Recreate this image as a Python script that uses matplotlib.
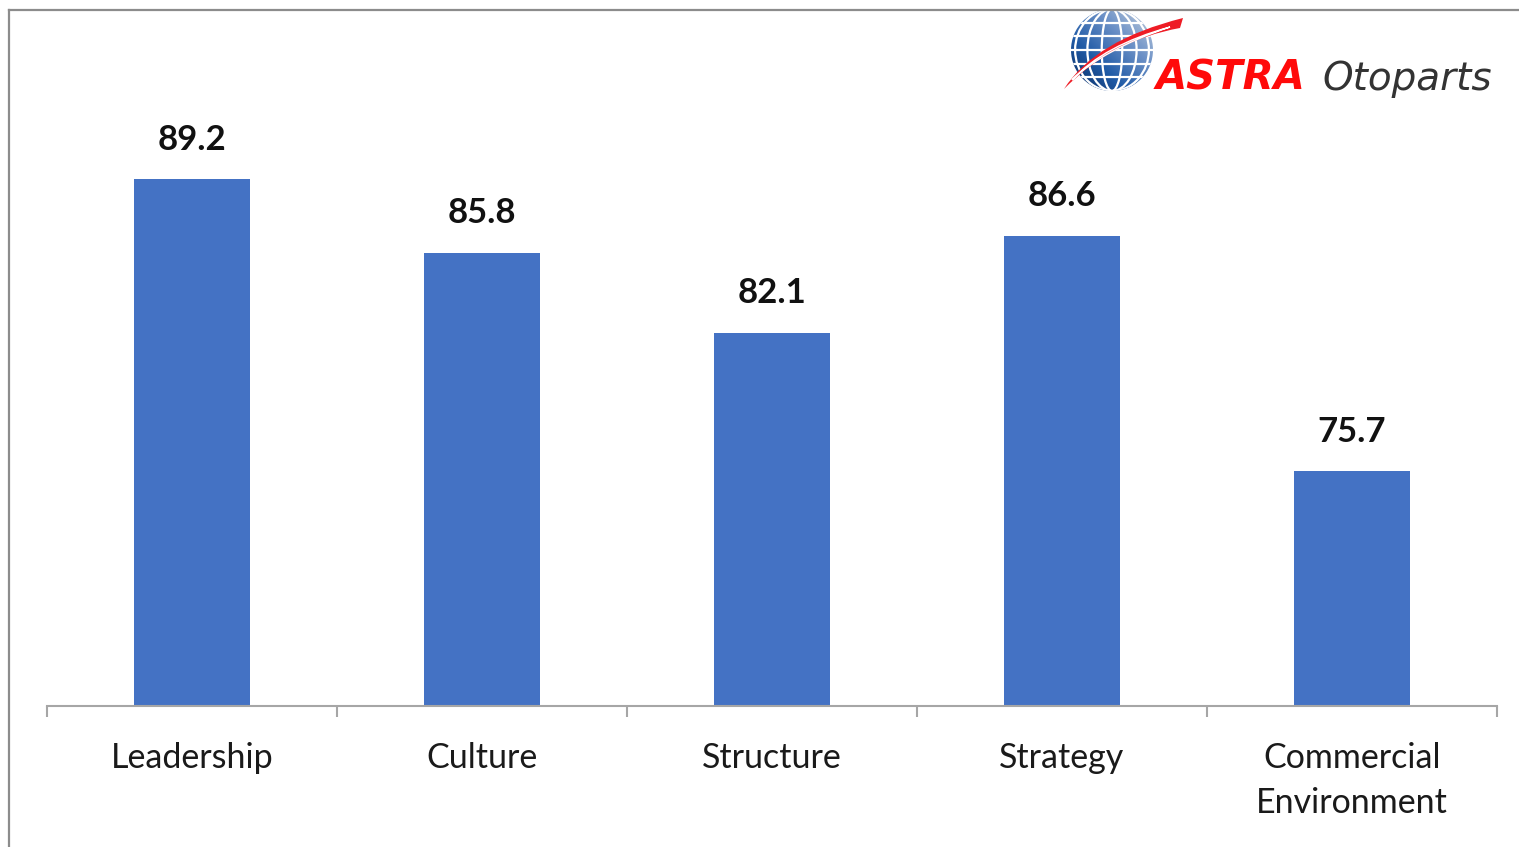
import matplotlib.pyplot as plt
import numpy as np
from matplotlib.patches import Circle, Ellipse, PathPatch
from matplotlib.path import Path
from matplotlib.colors import LinearSegmentedColormap

categories = ["Leadership", "Culture", "Structure", "Strategy", "Commercial\nEnvironment"]
scores = [89.2, 85.8, 82.1, 86.6, 75.7]
value_labels = ["89.2", "85.8", "82.1", "86.6", "75.7"]

W, H = 1519, 847
fig = plt.figure(figsize=(W / 100, H / 100), dpi=100)
fig.patch.set_facecolor("white")

# outer frame (only top and left edges visible in the crop)
fig.add_artist(plt.Line2D([9 / W, 1.0], [1 - 10 / H, 1 - 10 / H], color="#8c8c8c", lw=1.6))
fig.add_artist(plt.Line2D([9 / W, 9 / W], [0, 1 - 10 / H], color="#8c8c8c", lw=1.6))

# main chart axes
base_px, top_px = 706, 100
ax = fig.add_axes([47 / W, (H - base_px) / H, 1450 / W, (base_px - top_px) / H])
ymin = 64.85
ymax = ymin + (base_px - top_px) / 21.63
x = np.arange(len(categories))
bars = ax.bar(x, [s - ymin for s in scores], bottom=ymin, width=0.4, color="#4472C4", zorder=2)
ax.set_xlim(-0.5, len(categories) - 0.5)
ax.set_ylim(ymin, ymax)

for b, lab in zip(bars, value_labels):
    ax.annotate(lab, (b.get_x() + b.get_width() / 2, b.get_y() + b.get_height()),
                xytext=(0, 17), textcoords="offset points", ha="center", va="bottom",
                fontsize=25, fontweight="bold", family="Lato", color="#111111")

for s in ["top", "right", "left"]:
    ax.spines[s].set_visible(False)
ax.spines["bottom"].set_color("#a6a6a6")
ax.spines["bottom"].set_linewidth(1.5)
ax.set_yticks([])
ax.set_xticks(x)
ax.set_xticklabels(categories, fontsize=24.5, family="Lato", color="#1a1a1a", linespacing=1.5)
ax.tick_params(axis="x", length=0, pad=26)
# category boundary ticks
ax.set_xticks(np.arange(-0.5, len(categories)), minor=True)
ax.tick_params(axis="x", which="minor", length=8, width=1.5, color="#a6a6a6")
ax.patch.set_alpha(0)

# logo
lg = fig.add_axes([1055 / W, (H - 105) / H, 445 / W, 97 / H])
lg.set_xlim(1055, 1500)
lg.set_ylim(105, 8)
lg.axis("off")

cx, cy, r = 1112, 50, 41
clip = Circle((cx, cy), r, transform=lg.transData)
gx, gy = np.meshgrid(np.linspace(0, 1, 100), np.linspace(0, 1, 100))
grad = (gx + (1 - gy)) / 2
cmap = LinearSegmentedColormap.from_list("globe", ["#0b2a5c", "#1f5aa6", "#6f93c8", "#c9d3de"])
im = lg.imshow(grad, extent=(cx - r, cx + r, cy + r, cy - r), cmap=cmap, origin="upper", zorder=1)
im.set_clip_path(clip)
for w in [0.25, 0.6, 0.9]:
    e = Ellipse((cx, cy), 2 * r * w, 2 * r, fill=False, ec="white", lw=1.6, zorder=2)
    lg.add_patch(e)
    e.set_clip_path(clip)
for k in [-0.66, -0.33, 0, 0.33, 0.66]:
    ln, = lg.plot([cx - r, cx + r], [cy + k * r, cy + k * r], color="white", lw=1.6, zorder=2)
    ln.set_clip_path(clip)

# red swoosh
verts = [(1064, 89), (1095, 40), (1183, 18), (1180, 28), (1112, 40), (1064, 89)]
codes = [Path.MOVETO, Path.CURVE3, Path.CURVE3, Path.LINETO, Path.CURVE3, Path.CURVE3]
lg.add_patch(PathPatch(Path(verts, codes), fc="#ee1c25", ec="none", zorder=3))
wverts = [(1072, 80), (1104, 45), (1170, 27), (1104, 49), (1072, 80)]
wcodes = [Path.MOVETO, Path.CURVE3, Path.CURVE3, Path.CURVE3, Path.CURVE3]
lg.add_patch(PathPatch(Path(wverts, wcodes), fc="none", ec="white", lw=1.0, zorder=4))

lg.text(1156, 90, "ASTRA", fontsize=29, fontweight="bold", style="italic", family="DejaVu Sans",
        color="#ff0a0a", va="baseline", ha="left")
lg.text(1322, 90, "Otoparts", fontsize=28, style="italic", family="DejaVu Sans",
        color="#333333", va="baseline", ha="left")

fig.savefig("out.png", dpi=100)
